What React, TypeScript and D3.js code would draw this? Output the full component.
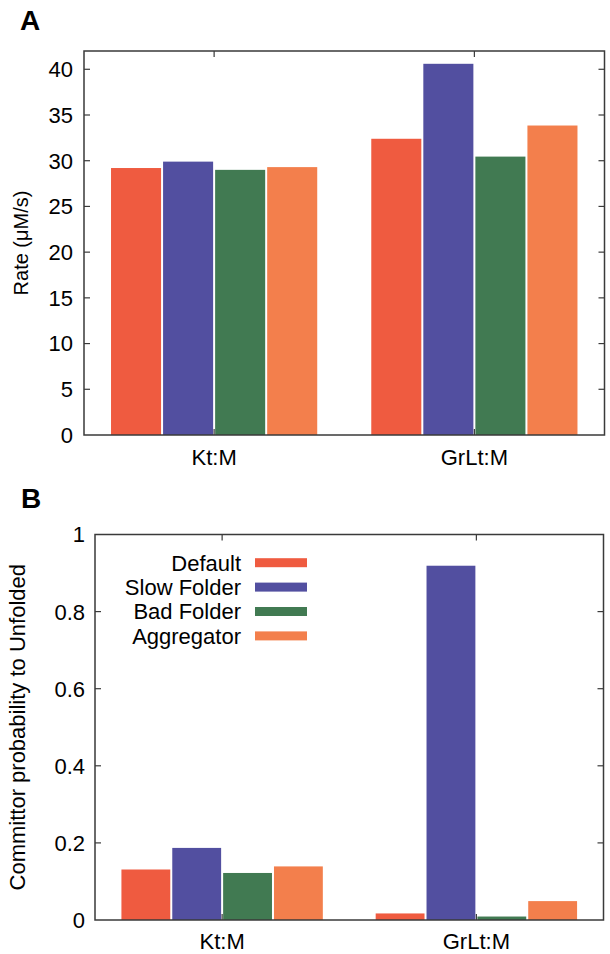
import React from "react";
import * as d3 from "d3";

const categories = ["Kt:M", "GrLt:M"];
const seriesNames = ["Default", "Slow Folder", "Bad Folder", "Aggregator"];
const seriesColors = ["#EF5B40", "#524FA0", "#417A52", "#F37F4C"];

// Panel A: Rate (μM/s)
const rateDefault = [29.2, 32.4];
const rateSlow = [29.9, 40.6];
const rateBad = [29.0, 30.45];
const rateAgg = [29.3, 33.85];

// Panel B: Committor probability to Unfolded
const commDefault = [0.131, 0.017];
const commSlow = [0.187, 0.919];
const commBad = [0.122, 0.009];
const commAgg = [0.139, 0.049];

const rateTicks = [0, 5, 10, 15, 20, 25, 30, 35, 40];
const commTicks = [0, 0.2, 0.4, 0.6, 0.8, 1];
const commTickLabels = ["0", "0.2", "0.4", "0.6", "0.8", "1"];

const FONT = "'Liberation Sans', Arial, Helvetica, sans-serif";
const AXIS = "#3a3a3a";

type PanelProps = {
  series: number[][];
  left: number;
  right: number;
  top: number;
  bottom: number;
  yMax: number;
  ticks: number[];
  tickLabels: string[];
  tickLabelGap: number;
  ylabel: string;
  ylabelX: number;
  ylabelSize: number;
  catBaseline: number;
  legend?: boolean;
};

function Panel(p: PanelProps) {
  const x = d3.scaleLinear().domain([-0.5, 1.5]).range([p.left, p.right]);
  const y = d3.scaleLinear().domain([0, p.yMax]).range([p.bottom, p.top]);
  const slot = 0.2;
  const tickLen = 6;
  return (
    <g>
      {p.series.map((vals, si) =>
        vals.map((v, ci) => {
          const x0 = x(ci - 0.4 + si * slot) + 1;
          const x1 = x(ci - 0.4 + (si + 1) * slot) - 1;
          return (
            <rect
              key={`${si}-${ci}`}
              x={x0}
              y={y(v)}
              width={x1 - x0}
              height={y(0) - y(v)}
              fill={seriesColors[si]}
            />
          );
        })
      )}
      {p.ticks.map((t, i) => (
        <g key={`t${i}`}>
          {t !== 0 && t !== p.yMax && (
            <>
              <line x1={p.left} x2={p.left + tickLen} y1={y(t)} y2={y(t)} stroke={AXIS} strokeWidth={1.2} />
              <line x1={p.right} x2={p.right - tickLen} y1={y(t)} y2={y(t)} stroke={AXIS} strokeWidth={1.2} />
            </>
          )}
          <text
            x={p.left - p.tickLabelGap}
            y={y(t)}
            dy="0.36em"
            textAnchor="end"
            fontFamily={FONT}
            fontSize={22}
            fill="#000"
          >
            {p.tickLabels[i]}
          </text>
        </g>
      ))}
      {categories.map((c, ci) => (
        <g key={c}>
          <line x1={x(ci)} x2={x(ci)} y1={p.bottom} y2={p.bottom - tickLen} stroke={AXIS} strokeWidth={1.2} />
          <line x1={x(ci)} x2={x(ci)} y1={p.top} y2={p.top + tickLen} stroke={AXIS} strokeWidth={1.2} />
          <text
            x={x(ci)}
            y={p.catBaseline}
            textAnchor="middle"
            fontFamily={FONT}
            fontSize={22}
            fill="#000"
          >
            {c}
          </text>
        </g>
      ))}
      <rect
        x={p.left}
        y={p.top}
        width={p.right - p.left}
        height={p.bottom - p.top}
        fill="none"
        stroke={AXIS}
        strokeWidth={1.5}
      />
      <text
        transform={`translate(${p.ylabelX},${(p.top + p.bottom) / 2}) rotate(-90)`}
        textAnchor="middle"
        dy="0.35em"
        fontFamily={FONT}
        fontSize={p.ylabelSize}
        fill="#000"
      >
        {p.ylabel}
      </text>
      {p.legend &&
        seriesNames.map((n, si) => {
          const cy = 562.7 + si * 24.4;
          return (
            <g key={n}>
              <text
                x={241}
                y={cy}
                dy="0.36em"
                textAnchor="end"
                fontFamily={FONT}
                fontSize={22}
                fill="#000"
              >
                {n}
              </text>
              <rect x={255} y={cy - 4.5} width={52} height={9} fill={seriesColors[si]} />
            </g>
          );
        })}
    </g>
  );
}

export default function App() {
  const rateSeries = [rateDefault, rateSlow, rateBad, rateAgg];
  const commSeries = [commDefault, commSlow, commBad, commAgg];
  return (
    <svg
      width={610}
      height={954}
      viewBox="0 0 610 954"
      style={{ position: "absolute", left: 0, top: 0, background: "#fff" }}
    >
      <rect x={0} y={0} width={610} height={954} fill="#fff" />
      <text x={20} y={30} fontFamily={FONT} fontWeight="bold" fontSize={28} fill="#000">
        A
      </text>
      <text x={21} y={508} fontFamily={FONT} fontWeight="bold" fontSize={28} fill="#000">
        B
      </text>
      <Panel
        series={rateSeries}
        left={84}
        right={604.5}
        top={51}
        bottom={435}
        yMax={42}
        ticks={rateTicks}
        tickLabels={rateTicks.map(String)}
        tickLabelGap={11}
        ylabel="Rate (μM/s)"
        ylabelX={21}
        ylabelSize={20}
        catBaseline={465}
      />
      <Panel
        series={commSeries}
        left={95}
        right={603.5}
        top={534.5}
        bottom={920}
        yMax={1}
        ticks={commTicks}
        tickLabels={commTickLabels}
        tickLabelGap={10}
        ylabel="Committor probability to Unfolded"
        ylabelX={17}
        ylabelSize={22}
        catBaseline={949}
        legend
      />
    </svg>
  );
}
